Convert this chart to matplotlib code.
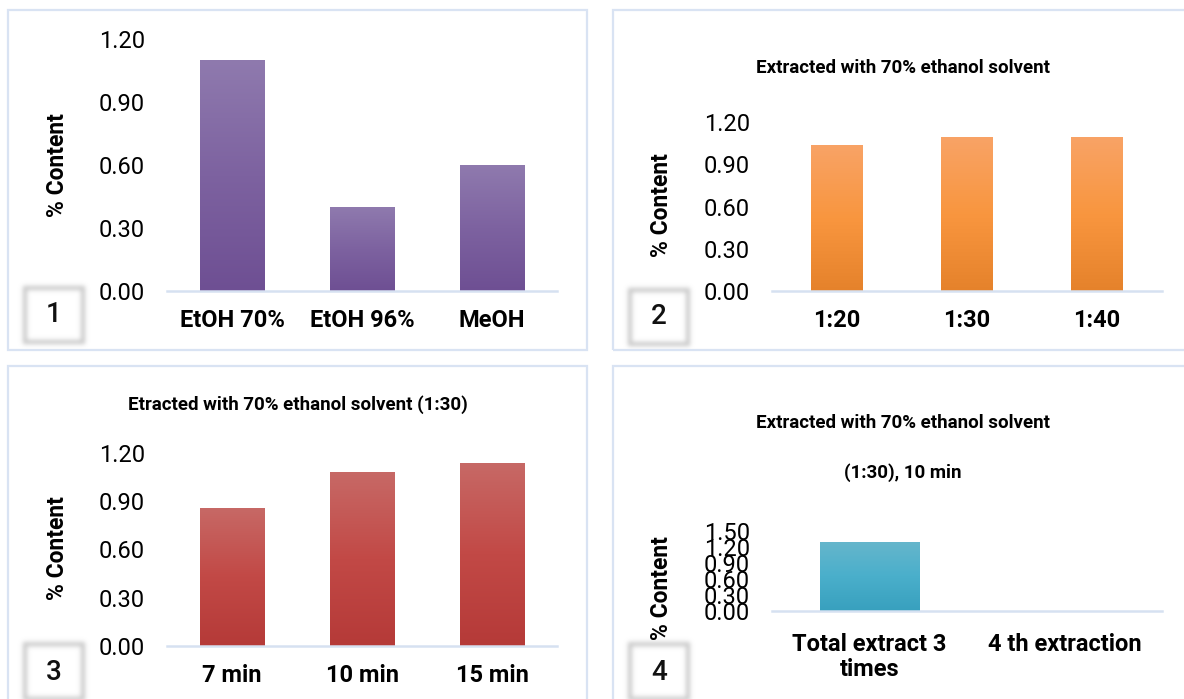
import numpy as np
import matplotlib
matplotlib.use("Agg")
import matplotlib.pyplot as plt
from matplotlib.colors import LinearSegmentedColormap
from matplotlib.patches import Rectangle

plt.rcParams['font.family'] = ['Roboto', 'DejaVu Sans']

# ------------------------- dados -------------------------
solvents = ["EtOH 70%", "EtOH 96%", "MeOH"]
solvent_vals = [1.10, 0.40, 0.60]

ratios = ["1:20", "1:30", "1:40"]
ratio_vals = [1.035, 1.09, 1.09]

times = ["7 min", "10 min", "15 min"]
time_vals = [0.86, 1.08, 1.14]

extractions = ["Total extract 3\ntimes", "4 th extraction"]
extraction_vals = [1.30, 0.0]

ticks_12 = [0.0, 0.3, 0.6, 0.9, 1.2]
ticks_15 = [0.0, 0.3, 0.6, 0.9, 1.2, 1.5]
# ---------------------------------------------------------

W, H = 1184, 699
fig = plt.figure(figsize=(W / 100, H / 100), dpi=100)
fig.patch.set_facecolor("white")


def rect(x0, y0, x1, y1):
    # pixels (origem no topo) -> coordenadas da figura
    return [x0 / W, 1 - y1 / H, (x1 - x0) / W, (y1 - y0) / H]


def frame(x0, y0, x1, y1):
    fig.patches.append(Rectangle((x0 / W, 1 - y1 / H), (x1 - x0) / W, (y1 - y0) / H,
                                 transform=fig.transFigure, fill=False,
                                 edgecolor="#D9E3F3", lw=1.6, zorder=0))


def gradient_bars(ax, labels, vals, width, colors):
    # colors: da base para o topo da barra
    x = np.arange(len(vals))
    bars = ax.bar(x, vals, width, color="none", edgecolor="none")
    cmap = LinearSegmentedColormap.from_list("grad", colors)
    grad = np.linspace(0, 1, 256).reshape(-1, 1)
    for b in bars:
        if b.get_height() <= 0:
            continue
        im = ax.imshow(grad, extent=(b.get_x(), b.get_x() + b.get_width(), 0, b.get_height()),
                       origin="lower", cmap=cmap, aspect="auto", zorder=2)
        im.set_clip_path(b)
    ax.set_xticks(x)
    ax.set_xticklabels(labels, fontsize=17, fontweight="bold")
    ax.set_xlim(-0.5, len(vals) - 0.5)


def setup_axes(ax, ticks):
    ax.set_ylim(ticks[0], ticks[-1])
    ax.set_yticks(ticks)
    ax.set_yticklabels([f"{t:.2f}" for t in ticks], fontsize=17)
    for s in ["top", "right", "left"]:
        ax.spines[s].set_visible(False)
    ax.spines["bottom"].set_color("#D6E1F1")
    ax.spines["bottom"].set_linewidth(1.8)
    ax.tick_params(axis="y", length=0, pad=16)
    ax.tick_params(axis="x", length=0, pad=13)
    ax.set_facecolor("none")


def tag(cx, cy, label):
    # caixinha numerada com borda desfocada
    w, h = 86, 82
    tax = fig.add_axes(rect(cx - w / 2, cy - h / 2, cx + w / 2, cy + h / 2))
    tax.set_axis_off()
    mask = np.zeros((h, w))
    m = 12
    mask[m:h - m, m:w - m] = 1.0
    mask[m + 4:h - m - 4, m + 4:w - m - 4] = 0.0
    k = np.exp(-0.5 * (np.arange(-7, 8) / 2.3) ** 2)
    k /= k.sum()
    mask = np.apply_along_axis(lambda r: np.convolve(r, k, mode="same"), 0, mask)
    mask = np.apply_along_axis(lambda r: np.convolve(r, k, mode="same"), 1, mask)
    img = np.ones((h, w, 4))
    img[..., :3] = 0.74
    img[..., 3] = np.clip(mask * 0.85, 0, 1)
    tax.imshow(img, extent=(0, 1, 0, 1), aspect="auto", interpolation="bilinear")
    tax.text(0.5, 0.5, label, ha="center", va="center", fontsize=20,
             fontweight="medium", color="#111111")
    tax.set_xlim(0, 1)
    tax.set_ylim(0, 1)


# molduras dos quatro gráficos
frame(8, 10, 587, 350)
frame(613, 10, 1200, 350)
frame(8, 366, 587, 720)
frame(613, 366, 1200, 720)

title_kw = dict(ha="center", va="center", fontsize=13.5, fontweight="bold")
ylab_kw = dict(rotation=90, ha="center", va="center", fontsize=16.5, fontweight="bold")

# 1 - solventes
ax1 = fig.add_axes(rect(167, 39, 557, 291))
gradient_bars(ax1, solvents, solvent_vals, 0.5, ["#6E4F93", "#7D62A0", "#8F7AAE"])
setup_axes(ax1, ticks_12)
fig.text(57 / W, 1 - 165 / H, "% Content", **ylab_kw)

# 2 - proporção
ax2 = fig.add_axes(rect(772, 122, 1162, 291))
gradient_bars(ax2, ratios, ratio_vals, 0.4, ["#E5822B", "#F9963F", "#F8A366"])
setup_axes(ax2, ticks_12)
fig.text(903 / W, 1 - 68 / H, "Extracted with 70% ethanol solvent", **title_kw)
fig.text(662 / W, 1 - 205 / H, "% Content", **ylab_kw)

# 3 - tempo
ax3 = fig.add_axes(rect(167, 453, 557, 646))
gradient_bars(ax3, times, time_vals, 0.5, ["#B53A38", "#C24946", "#C76966"])
setup_axes(ax3, ticks_12)
fig.text(298 / W, 1 - 405 / H, "Etracted with 70% ethanol solvent (1:30)", **title_kw)
fig.text(57 / W, 1 - 548 / H, "% Content", **ylab_kw)

# 4 - extrações
ax4 = fig.add_axes(rect(772, 531, 1162, 611))
gradient_bars(ax4, extractions, extraction_vals, 0.51, ["#38A0BE", "#4AAFCB", "#66B6CC"])
setup_axes(ax4, ticks_15)
ax4.tick_params(axis="x", pad=16)
for lbl in ax4.get_xticklabels():
    lbl.set_linespacing(1.1)
fig.text(903 / W, 1 - 423 / H, "Extracted with 70% ethanol solvent", **title_kw)
fig.text(903 / W, 1 - 473 / H, "(1:30), 10 min", **title_kw)
fig.text(662 / W, 1 - 588 / H, "% Content", **ylab_kw)

tag(54, 315, "1")
tag(659, 317, "2")
tag(54, 672, "3")
tag(659, 672, "4")

fig.savefig("out.png", dpi=100, facecolor="white")
